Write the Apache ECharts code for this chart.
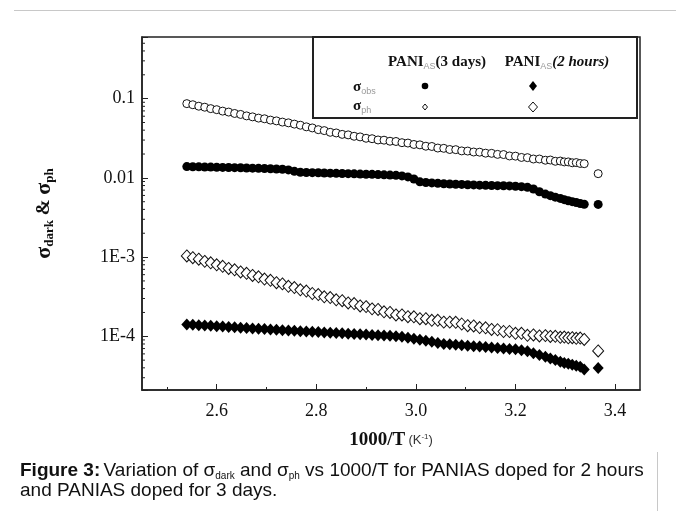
<!DOCTYPE html>
<html>
<head>
<meta charset="utf-8">
<script src="https://cdn.jsdelivr.net/npm/echarts@6/dist/echarts.min.js"></script>
<style>
html,body{margin:0;padding:0;background:#fff;}
#chart{width:676px;height:511px;}
</style>
</head>
<body>
<div id="chart"></div>
<script>
// ---- data (1000/T in K^-1, conductivity) ----
const xVals = [2.540,2.552,2.564,2.576,2.588,2.600,2.612,2.624,2.636,2.648,2.660,2.672,2.684,2.696,2.708,2.720,2.732,2.744,2.756,2.768,2.780,2.792,2.804,2.816,2.828,2.840,2.852,2.864,2.876,2.888,2.900,2.912,2.924,2.936,2.948,2.960,2.972,2.984,2.996,3.008,3.020,3.032,3.044,3.056,3.068,3.080,3.092,3.104,3.116,3.128,3.140,3.152,3.164,3.176,3.188,3.200,3.212,3.224,3.236,3.248,3.260,3.270,3.280,3.290,3.298,3.306,3.314,3.322,3.330,3.338,3.366];

// PANI_AS (3 days), sigma_ph  (open circles)
const sigmaPh3d = [0.0865,0.0838,0.0803,0.0780,0.0748,0.0726,0.0696,0.0677,0.0650,0.0632,0.0606,0.0589,0.0568,0.0557,0.0536,0.0524,0.0506,0.0495,0.0477,0.0462,0.0441,0.0427,0.0406,0.0395,0.0376,0.0369,0.0354,0.0349,0.0335,0.0329,0.0316,0.0312,0.0301,0.0299,0.0290,0.0288,0.0278,0.0275,0.0264,0.0261,0.0251,0.0249,0.0238,0.0236,0.0228,0.0227,0.0219,0.0218,0.0212,0.0211,0.0205,0.0204,0.0198,0.0197,0.0189,0.0188,0.0181,0.0180,0.0173,0.0173,0.0167,0.0168,0.0162,0.0163,0.0159,0.0159,0.0155,0.0156,0.0152,0.0151,0.0113];
// PANI_AS (3 days), sigma_dark (filled circles)
const sigmaDark3d = [0.01387,0.01380,0.01377,0.01371,0.01368,0.01361,0.01355,0.01352,0.01346,0.01340,0.01334,0.01327,0.01318,0.01312,0.01303,0.01294,0.01285,0.01259,0.01208,0.01178,0.01169,0.01164,0.01159,0.01151,0.01146,0.01140,0.01135,0.01130,0.01125,0.01117,0.01112,0.01107,0.01099,0.01091,0.01084,0.01076,0.01059,0.01028,0.00966,0.00891,0.00875,0.00863,0.00853,0.00843,0.00838,0.00832,0.00826,0.00820,0.00815,0.00809,0.00805,0.00802,0.00798,0.00794,0.00791,0.00785,0.00774,0.00759,0.00724,0.00668,0.00624,0.00596,0.00571,0.00550,0.00531,0.00515,0.00501,0.00488,0.00475,0.00465,0.00462];
// PANI_AS (2 hours), sigma_ph (open diamonds)
const sigmaPh2h = [1.035e-3,9.84e-4,9.40e-4,8.83e-4,8.47e-4,7.98e-4,7.66e-4,7.20e-4,6.91e-4,6.49e-4,6.25e-4,5.86e-4,5.64e-4,5.28e-4,5.09e-4,4.75e-4,4.59e-4,4.28e-4,4.13e-4,3.86e-4,3.72e-4,3.47e-4,3.36e-4,3.15e-4,3.08e-4,2.89e-4,2.82e-4,2.64e-4,2.59e-4,2.42e-4,2.37e-4,2.22e-4,2.18e-4,2.04e-4,2.00e-4,1.86e-4,1.86e-4,1.77e-4,1.76e-4,1.67e-4,1.67e-4,1.59e-4,1.59e-4,1.51e-4,1.51e-4,1.50e-4,1.43e-4,1.36e-4,1.35e-4,1.29e-4,1.28e-4,1.22e-4,1.21e-4,1.15e-4,1.15e-4,1.09e-4,1.09e-4,1.03e-4,1.04e-4,1.01e-4,1.02e-4,9.95e-5,1.00e-4,9.72e-5,9.78e-5,9.58e-5,9.62e-5,9.42e-5,9.50e-5,9.12e-5,6.53e-5];
// PANI_AS (2 hours), sigma_dark (filled diamonds)
const sigmaDark2h = [1.413e-4,1.396e-4,1.384e-4,1.368e-4,1.355e-4,1.340e-4,1.327e-4,1.312e-4,1.297e-4,1.285e-4,1.271e-4,1.259e-4,1.245e-4,1.233e-4,1.219e-4,1.208e-4,1.194e-4,1.183e-4,1.172e-4,1.161e-4,1.151e-4,1.140e-4,1.130e-4,1.119e-4,1.109e-4,1.099e-4,1.091e-4,1.081e-4,1.072e-4,1.062e-4,1.052e-4,1.042e-4,1.033e-4,1.023e-4,1.014e-4,1.005e-4,9.86e-5,9.57e-5,9.29e-5,9.02e-5,8.77e-5,8.51e-5,8.26e-5,8.02e-5,7.91e-5,7.80e-5,7.71e-5,7.60e-5,7.50e-5,7.41e-5,7.31e-5,7.21e-5,7.13e-5,7.03e-5,6.93e-5,6.85e-5,6.67e-5,6.46e-5,6.12e-5,5.79e-5,5.50e-5,5.25e-5,5.01e-5,4.79e-5,4.61e-5,4.49e-5,4.37e-5,4.25e-5,4.13e-5,3.80e-5,3.98e-5];

// ---- axes ----
const xMin = 2.45, xMax = 3.45;
const xTickValues = [2.6, 2.8, 3.0, 3.2, 3.4];
const xTickLabels = ['2.6', '2.8', '3.0', '3.2', '3.4'];
const xMinorTicks = [2.5, 2.7, 2.9, 3.1, 3.3];
const yMin = 2.1e-5, yMax = 0.6;
const yTickValues = [1e-4, 1e-3, 0.01, 0.1];
const yTickLabels = ['1E-4', '1E-3', '0.01', '0.1'];
const yMinorMultipliers = [2, 3, 4, 5, 6, 7, 8, 9];
const yMinorDecades = [1e-5, 1e-4, 1e-3, 1e-2, 1e-1];

const yMinorTicks = [];
yMinorDecades.forEach(d => yMinorMultipliers.forEach(m => {
  const v = d * m;
  if (v > yMin && v < yMax) yMinorTicks.push(v);
}));

const zip = ys => xVals.map((x, i) => [x, ys[i]]);

function yLabel(v) {
  for (let i = 0; i < yTickValues.length; i++) {
    if (Math.abs(Math.log10(v) - Math.log10(yTickValues[i])) < 1e-6) return yTickLabels[i];
  }
  return '';
}
function xLabel(v) {
  for (let i = 0; i < xTickValues.length; i++) {
    if (Math.abs(v - xTickValues[i]) < 1e-6) return xTickLabels[i];
  }
  return '';
}

const serif = '"Liberation Serif","Times New Roman",serif';
const sans = '"Liberation Sans",Arial,sans-serif';

const chart = echarts.init(document.getElementById('chart'), null, {renderer: 'canvas'});

const option = {
  backgroundColor: '#fff',
  animation: false,
  grid: {
    left: 142, top: 37, right: 36, bottom: 121,
    show: true, borderColor: '#222', borderWidth: 1.5,
    containLabel: false, outerBoundsMode: 'none'
  },
  xAxis: [{
    type: 'value', min: xMin, max: xMax,
    axisLine: {show: true, lineStyle: {color: '#222', width: 1.5}},
    axisTick: {show: true, inside: true, length: 6, customValues: xTickValues, lineStyle: {color: '#222'}},
    axisLabel: {customValues: xTickValues, formatter: xLabel, margin: 12,
      fontFamily: serif, fontSize: 18, color: '#111'},
    splitLine: {show: false},
    name: '{a|1000/T} {b|(K}{c|-1}{b|)}',
    nameLocation: 'middle', nameGap: 41,
    nameTextStyle: {
      rich: {
        a: {fontFamily: serif, fontWeight: 'bold', fontSize: 19, color: '#111'},
        b: {fontFamily: sans, fontSize: 13, color: '#333'},
        c: {fontFamily: sans, fontSize: 8, color: '#333', padding: [0, 0, 8, 0]}
      }
    }
  }, {
    type: 'value', min: xMin, max: xMax, position: 'bottom',
    axisLine: {show: false},
    axisTick: {show: true, inside: true, length: 3, customValues: xMinorTicks, lineStyle: {color: '#222'}},
    axisLabel: {show: false},
    splitLine: {show: false}
  }],
  yAxis: {
    type: 'log', logBase: 10, min: yMin, max: yMax,
    axisLine: {show: true, lineStyle: {color: '#222', width: 1.5}},
    axisTick: {show: true, inside: true, length: 6, lineStyle: {color: '#222'}},
    axisLabel: {formatter: yLabel, margin: 7, fontFamily: serif, fontSize: 18, color: '#111'},
    splitLine: {show: false},
    minorTick: {show: false},
    name: '{s|σ}{d|dark}{a| & }{s|σ}{d|ph}',
    nameLocation: 'middle', nameGap: 86, nameRotate: 90,
    nameTextStyle: {
      rich: {
        s: {fontFamily: serif, fontWeight: 'bold', fontSize: 22, color: '#111'},
        a: {fontFamily: serif, fontWeight: 'bold', fontSize: 19, color: '#111'},
        d: {fontFamily: serif, fontWeight: 'bold', fontSize: 13, color: '#111', padding: [10, 0, 0, 0]}
      }
    }
  },
  series: [
    {
      type: 'custom', name: 'yMinor', silent: true, clip: false,
      data: yMinorTicks.map(v => [xMin, v]),
      encode: {x: 0, y: 1},
      renderItem: (params, api) => {
        const p = api.coord([api.value(0), api.value(1)]);
        return {type: 'line', shape: {x1: p[0], y1: p[1], x2: p[0] + 3, y2: p[1]},
          style: {stroke: '#222', lineWidth: 1}};
      },
      z: 1
    },
    {
      name: 'PANI_AS (3 days) σph', type: 'scatter', data: zip(sigmaPh3d),
      symbol: 'circle', symbolSize: 8,
      itemStyle: {color: '#fff', borderColor: '#111', borderWidth: 1, opacity: 1}
    },
    {
      name: 'PANI_AS (3 days) σdark', type: 'scatter', data: zip(sigmaDark3d),
      symbol: 'circle', symbolSize: 9,
      itemStyle: {color: '#000', opacity: 1}
    },
    {
      name: 'PANI_AS (2 hours) σdark', type: 'scatter', data: zip(sigmaDark2h),
      symbol: 'diamond', symbolSize: [11, 12],
      itemStyle: {color: '#000', opacity: 1}
    },
    {
      name: 'PANI_AS (2 hours) σph', type: 'scatter', data: zip(sigmaPh2h),
      symbol: 'diamond', symbolSize: [11, 12],
      itemStyle: {color: '#fff', borderColor: '#111', borderWidth: 1, opacity: 1}
    }
  ],
  graphic: [
    // page border
    {type: 'line', shape: {x1: 14, y1: 10.5, x2: 676, y2: 10.5}, style: {stroke: '#c8c8c8', lineWidth: 1}, silent: true},
    {type: 'line', shape: {x1: 657.5, y1: 452, x2: 657.5, y2: 511}, style: {stroke: '#c8c8c8', lineWidth: 1}, silent: true},
    // legend box
    {type: 'rect', shape: {x: 313, y: 37, width: 324, height: 81}, z: 100,
      style: {fill: '#fff', stroke: '#222', lineWidth: 2}, silent: true},
    {type: 'text', x: 437, y: 62, z: 101, silent: true,
      style: {text: '{b|PANI}{s|AS}{b|(3 days)}', align: 'center', verticalAlign: 'middle',
        rich: {b: {fontFamily: serif, fontWeight: 'bold', fontSize: 15, fill: '#111'},
               s: {fontFamily: sans, fontSize: 9, fill: '#999', padding: [10, 0, 0, 0]}}}},
    {type: 'text', x: 557, y: 62, z: 101, silent: true,
      style: {text: '{b|PANI}{s|AS}{i|(2 hours)}', align: 'center', verticalAlign: 'middle',
        rich: {b: {fontFamily: serif, fontWeight: 'bold', fontSize: 15, fill: '#111'},
               i: {fontFamily: serif, fontWeight: 'bold', fontStyle: 'italic', fontSize: 15, fill: '#111'},
               s: {fontFamily: sans, fontSize: 9, fill: '#999', padding: [10, 0, 0, 0]}}}},
    {type: 'text', x: 353, y: 87, z: 101, silent: true,
      style: {text: '{g|σ}{s|obs}', align: 'left', verticalAlign: 'middle',
        rich: {g: {fontFamily: serif, fontWeight: 'bold', fontSize: 15, fill: '#111'},
               s: {fontFamily: sans, fontSize: 9, fill: '#999', padding: [10, 0, 0, 0]}}}},
    {type: 'text', x: 353, y: 106, z: 101, silent: true,
      style: {text: '{g|σ}{s|ph}', align: 'left', verticalAlign: 'middle',
        rich: {g: {fontFamily: serif, fontWeight: 'bold', fontSize: 15, fill: '#111'},
               s: {fontFamily: sans, fontSize: 9, fill: '#999', padding: [10, 0, 0, 0]}}}},
    {type: 'circle', shape: {cx: 425, cy: 86, r: 3.3}, z: 101, style: {fill: '#000'}, silent: true},
    {type: 'polygon', shape: {points: [[533, 81], [537, 86], [533, 91], [529, 86]]}, z: 101, style: {fill: '#000'}, silent: true},
    {type: 'polygon', shape: {points: [[425, 104], [427.5, 107], [425, 110], [422.5, 107]]}, z: 101,
      style: {fill: '#fff', stroke: '#111', lineWidth: 1}, silent: true},
    {type: 'polygon', shape: {points: [[533, 102], [537.5, 107], [533, 112], [528.5, 107]]}, z: 101,
      style: {fill: '#fff', stroke: '#111', lineWidth: 1}, silent: true},
    // caption
    {type: 'text', left: 20, top: 461, silent: true,
      style: {text: '{b|Figure 3:} {n|Variation of σ}{u|dark}{n| and σ}{u|ph}{n| vs 1000/T for PANIAS doped for 2 hours}',
        rich: {b: {fontFamily: sans, fontWeight: 'bold', fontSize: 19, fill: '#111'},
               n: {fontFamily: sans, fontSize: 19, fill: '#111'},
               u: {fontFamily: sans, fontSize: 10, fill: '#111', padding: [12, 0, 0, 0]}}}},
    {type: 'text', left: 20, top: 481, silent: true,
      style: {text: 'and PANIAS doped for 3 days.', fontFamily: sans, fontSize: 19, fill: '#111'}}
  ]
};

chart.setOption(option);
</script>
</body>
</html>
